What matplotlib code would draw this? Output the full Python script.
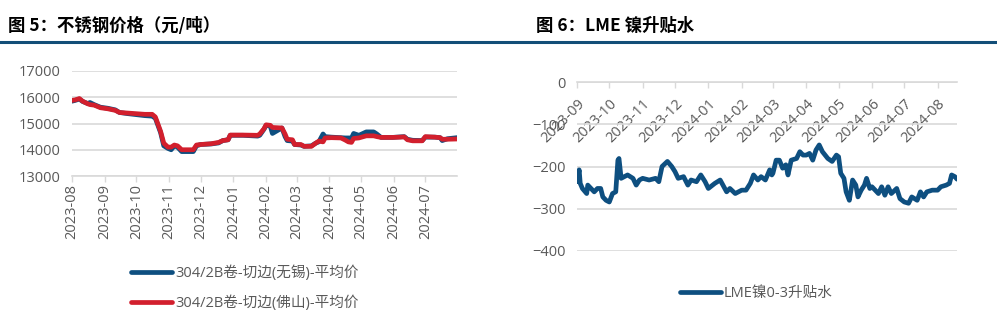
import numpy as np
import pandas as pd
import matplotlib
matplotlib.use("Agg")
from matplotlib import pyplot as plt
import matplotlib.dates as mdates
from matplotlib.lines import Line2D

plt.rcParams['font.family'] = ['Open Sans', 'Noto Sans CJK SC', 'DejaVu Sans']

# ---- chart 5: stainless steel prices (yuan/ton)
steel_dates = ["2023-08-01", "2023-08-04", "2023-08-08", "2023-08-11", "2023-08-16", "2023-08-18",
               "2023-08-22", "2023-08-28", "2023-09-04", "2023-09-11", "2023-09-15", "2023-09-22",
               "2023-10-09", "2023-10-16", "2023-10-19", "2023-10-24", "2023-10-27", "2023-10-31",
               "2023-11-03", "2023-11-06", "2023-11-09", "2023-11-13", "2023-11-20", "2023-11-24",
               "2023-11-27", "2023-12-01", "2023-12-11", "2023-12-18", "2023-12-22", "2023-12-27",
               "2023-12-29", "2024-01-10", "2024-01-24", "2024-01-26", "2024-01-30", "2024-02-01",
               "2024-02-05", "2024-02-07", "2024-02-16", "2024-02-19", "2024-02-21", "2024-02-26",
               "2024-02-28", "2024-03-05", "2024-03-08", "2024-03-15", "2024-03-19", "2024-03-22",
               "2024-03-26", "2024-03-28", "2024-04-03", "2024-04-12", "2024-04-16", "2024-04-19",
               "2024-04-22", "2024-04-24", "2024-04-29", "2024-05-06", "2024-05-13", "2024-05-16",
               "2024-05-20", "2024-05-31", "2024-06-07", "2024-06-11", "2024-06-14", "2024-06-19",
               "2024-06-28", "2024-07-01", "2024-07-10", "2024-07-15", "2024-07-17", "2024-07-22",
               "2024-07-31"]
foshan = [15880, 15900, 15950, 15850, 15750, 15720,
          15700, 15600, 15560, 15500, 15420, 15400,
          15350, 15350, 15250, 14700, 14250, 14100,
          14100, 14180, 14150, 14000, 14000, 14000,
          14180, 14200, 14230, 14280, 14350, 14380,
          14560, 14560, 14550, 14600, 14800, 14950,
          14930, 14850, 14830, 14600, 14400, 14380,
          14200, 14200, 14130, 14130, 14250, 14330,
          14300, 14450, 14460, 14450, 14370, 14300,
          14280, 14430, 14450, 14530, 14530, 14500,
          14470, 14470, 14480, 14490, 14380, 14340,
          14340, 14500, 14480, 14460, 14400, 14400,
          14410]
wuxi = [15850, 15880, 15930, 15840, 15760, 15800,
        15720, 15620, 15580, 15520, 15420, 15380,
        15300, 15280, 15200, 14650, 14150, 14050,
        14000, 14150, 14100, 13930, 13930, 13930,
        14150, 14200, 14220, 14260, 14350, 14380,
        14550, 14550, 14520, 14550, 14780, 14930,
        14900, 14620, 14830, 14500, 14350, 14330,
        14200, 14180, 14130, 14150, 14250, 14300,
        14600, 14500, 14480, 14460, 14450, 14450,
        14450, 14620, 14550, 14680, 14680, 14600,
        14470, 14470, 14490, 14500, 14400, 14360,
        14350, 14480, 14480, 14460, 14350, 14420,
        14460]
steel_labels = ["304/2B卷-切边(无锡)-平均价", "304/2B卷-切边(佛山)-平均价"]
steel_yticks = [13000, 14000, 15000, 16000, 17000]

# ---- chart 6: LME nickel 0-3 spread
lme_dates = ["2023-09-01", "2023-09-03", "2023-09-04", "2023-09-06", "2023-09-10", "2023-09-11",
             "2023-09-14", "2023-09-17", "2023-09-20", "2023-09-23", "2023-09-25", "2023-09-28",
             "2023-10-01", "2023-10-04", "2023-10-07", "2023-10-09", "2023-10-10", "2023-10-12",
             "2023-10-15", "2023-10-18", "2023-10-23", "2023-10-26", "2023-10-29", "2023-11-01",
             "2023-11-07", "2023-11-13", "2023-11-16", "2023-11-19", "2023-11-24", "2023-11-28",
             "2023-12-01", "2023-12-04", "2023-12-09", "2023-12-13", "2023-12-16", "2023-12-21",
             "2023-12-25", "2023-12-29", "2024-01-01", "2024-01-07", "2024-01-12", "2024-01-18",
             "2024-01-21", "2024-01-26", "2024-02-01", "2024-02-05", "2024-02-09", "2024-02-12",
             "2024-02-16", "2024-02-19", "2024-02-23", "2024-02-27", "2024-02-29", "2024-03-01",
             "2024-03-04", "2024-03-07", "2024-03-10", "2024-03-13", "2024-03-15", "2024-03-18",
             "2024-03-23", "2024-03-26", "2024-03-29", "2024-04-01", "2024-04-04", "2024-04-07",
             "2024-04-10", "2024-04-13", "2024-04-16", "2024-04-21", "2024-04-25", "2024-04-29",
             "2024-05-01", "2024-05-03", "2024-05-06", "2024-05-08", "2024-05-11", "2024-05-14",
             "2024-05-17", "2024-05-19", "2024-05-22", "2024-05-25", "2024-05-27", "2024-05-30",
             "2024-06-01", "2024-06-04", "2024-06-07", "2024-06-10", "2024-06-13", "2024-06-16",
             "2024-06-19", "2024-06-24", "2024-06-27", "2024-07-01", "2024-07-05", "2024-07-08",
             "2024-07-13", "2024-07-16", "2024-07-19", "2024-07-22", "2024-07-27", "2024-08-01",
             "2024-08-04", "2024-08-09", "2024-08-12", "2024-08-14", "2024-08-17", "2024-08-19"]
lme_spread = [-236, -208, -240, -252, -264, -244,
              -252, -260, -252, -252, -272, -280,
              -284, -264, -260, -185, -181, -228,
              -224, -220, -228, -244, -232, -228,
              -232, -228, -236, -200, -188, -200,
              -212, -228, -224, -244, -232, -236,
              -220, -236, -252, -240, -232, -260,
              -252, -264, -256, -256, -240, -220,
              -232, -224, -232, -208, -220, -216,
              -185, -185, -204, -196, -220, -185,
              -181, -165, -173, -173, -169, -185,
              -161, -149, -165, -181, -188, -173,
              -177, -216, -228, -260, -280, -232,
              -244, -272, -256, -244, -228, -252,
              -248, -256, -264, -248, -268, -248,
              -264, -252, -276, -284, -287, -272,
              -280, -260, -272, -260, -256, -256,
              -248, -244, -240, -220, -224, -230]
lme_label = "LME镍0-3升贴水"
lme_yticks = [-400, -300, -200, -100, 0]

blue = "#0e4f80"
red = "#d21f2d"
grid_c = "#d9d9d9"
text_c = "#595959"

fig = plt.figure(figsize=(9.97, 3.29), dpi=100)

# headers
fig.text(8 / 997, 1 - 26 / 329, "图 5：不锈钢价格（元/吨）", fontsize=12.5, fontweight="bold",
         family=["Noto Sans CJK SC"], va="center", ha="left", color="black")
fig.text(536 / 997, 1 - 26 / 329, "图 6：LME 镍升贴水", fontsize=12.5, fontweight="bold",
         family=["Noto Sans CJK SC"], va="center", ha="left", color="black")
fig.add_artist(Line2D([0, 1], [1 - 42 / 329, 1 - 42 / 329], transform=fig.transFigure,
                      color="#124e78", linewidth=2.2))

# ---- left chart
d1 = pd.to_datetime(steel_dates)
ax1 = fig.add_axes([72 / 997, 1 - 176 / 329, 385 / 997, 105 / 329])
ax1.plot(d1, wuxi, color=blue, linewidth=3.4, label=steel_labels[0], solid_capstyle="round")
ax1.plot(d1, foshan, color=red, linewidth=3.4, label=steel_labels[1], solid_capstyle="round")
ax1.set_ylim(13000, 17000)
ax1.set_yticks(steel_yticks)
ax1.set_xlim(pd.Timestamp("2023-08-01"), pd.Timestamp("2024-07-31"))
ax1.xaxis.set_major_locator(mdates.MonthLocator())
ax1.xaxis.set_major_formatter(mdates.DateFormatter("%Y-%m"))
ax1.grid(axis="y", color=grid_c, linewidth=1.2)
ax1.set_axisbelow(True)
for s in ["top", "right", "left"]:
    ax1.spines[s].set_visible(False)
ax1.spines["bottom"].set_color(grid_c)
ax1.spines["bottom"].set_linewidth(1.2)
ax1.tick_params(axis="y", length=0, labelsize=10.5, labelcolor=text_c, pad=8)
ax1.tick_params(axis="x", length=4, color=grid_c, width=1, labelsize=10.5,
                labelcolor=text_c, pad=2, labelrotation=90)
leg1 = ax1.legend(loc="upper left", bbox_to_anchor=(124 / 997, 1 - 258 / 329),
                  bbox_transform=fig.transFigure, frameon=False, fontsize=10.5,
                  handlelength=2.8, handletextpad=0.2, labelspacing=1.0, borderpad=0)
for t in leg1.get_texts():
    t.set_color(text_c)

# ---- right chart
d2 = pd.to_datetime(lme_dates)
ax2 = fig.add_axes([577 / 997, 1 - 251 / 329, 380 / 997, 169 / 329])
ax2.plot(d2, lme_spread, color=blue, linewidth=3.4, label=lme_label, solid_capstyle="round")
ax2.set_ylim(-400, 0)
ax2.set_yticks(lme_yticks)
ax2.set_xlim(pd.Timestamp("2023-09-01"), pd.Timestamp("2024-08-19"))
ax2.xaxis.set_major_locator(mdates.MonthLocator())
ax2.xaxis.set_major_formatter(mdates.DateFormatter("%Y-%m"))
ax2.grid(axis="y", color=grid_c, linewidth=1.2)
ax2.set_axisbelow(True)
for s in ["top", "right", "left"]:
    ax2.spines[s].set_visible(False)
ax2.spines["bottom"].set_position(("data", 0))
ax2.spines["bottom"].set_color(grid_c)
ax2.spines["bottom"].set_linewidth(1.2)
ax2.tick_params(axis="y", length=0, labelsize=10.5, labelcolor=text_c, pad=8)
ax2.tick_params(axis="x", length=4, color=grid_c, width=1, labelsize=10.5,
                labelcolor=text_c, pad=6)
for lbl in ax2.get_xticklabels():
    lbl.set_rotation(45)
    lbl.set_ha("right")
    lbl.set_va("top")
    lbl.set_rotation_mode("anchor")
leg2 = ax2.legend(loc="upper left", bbox_to_anchor=(673 / 997, 1 - 279 / 329),
                  bbox_transform=fig.transFigure, frameon=False, fontsize=10.5,
                  handlelength=2.8, handletextpad=0.2, borderpad=0)
for t in leg2.get_texts():
    t.set_color(text_c)

fig.savefig("out.png", dpi=100)
